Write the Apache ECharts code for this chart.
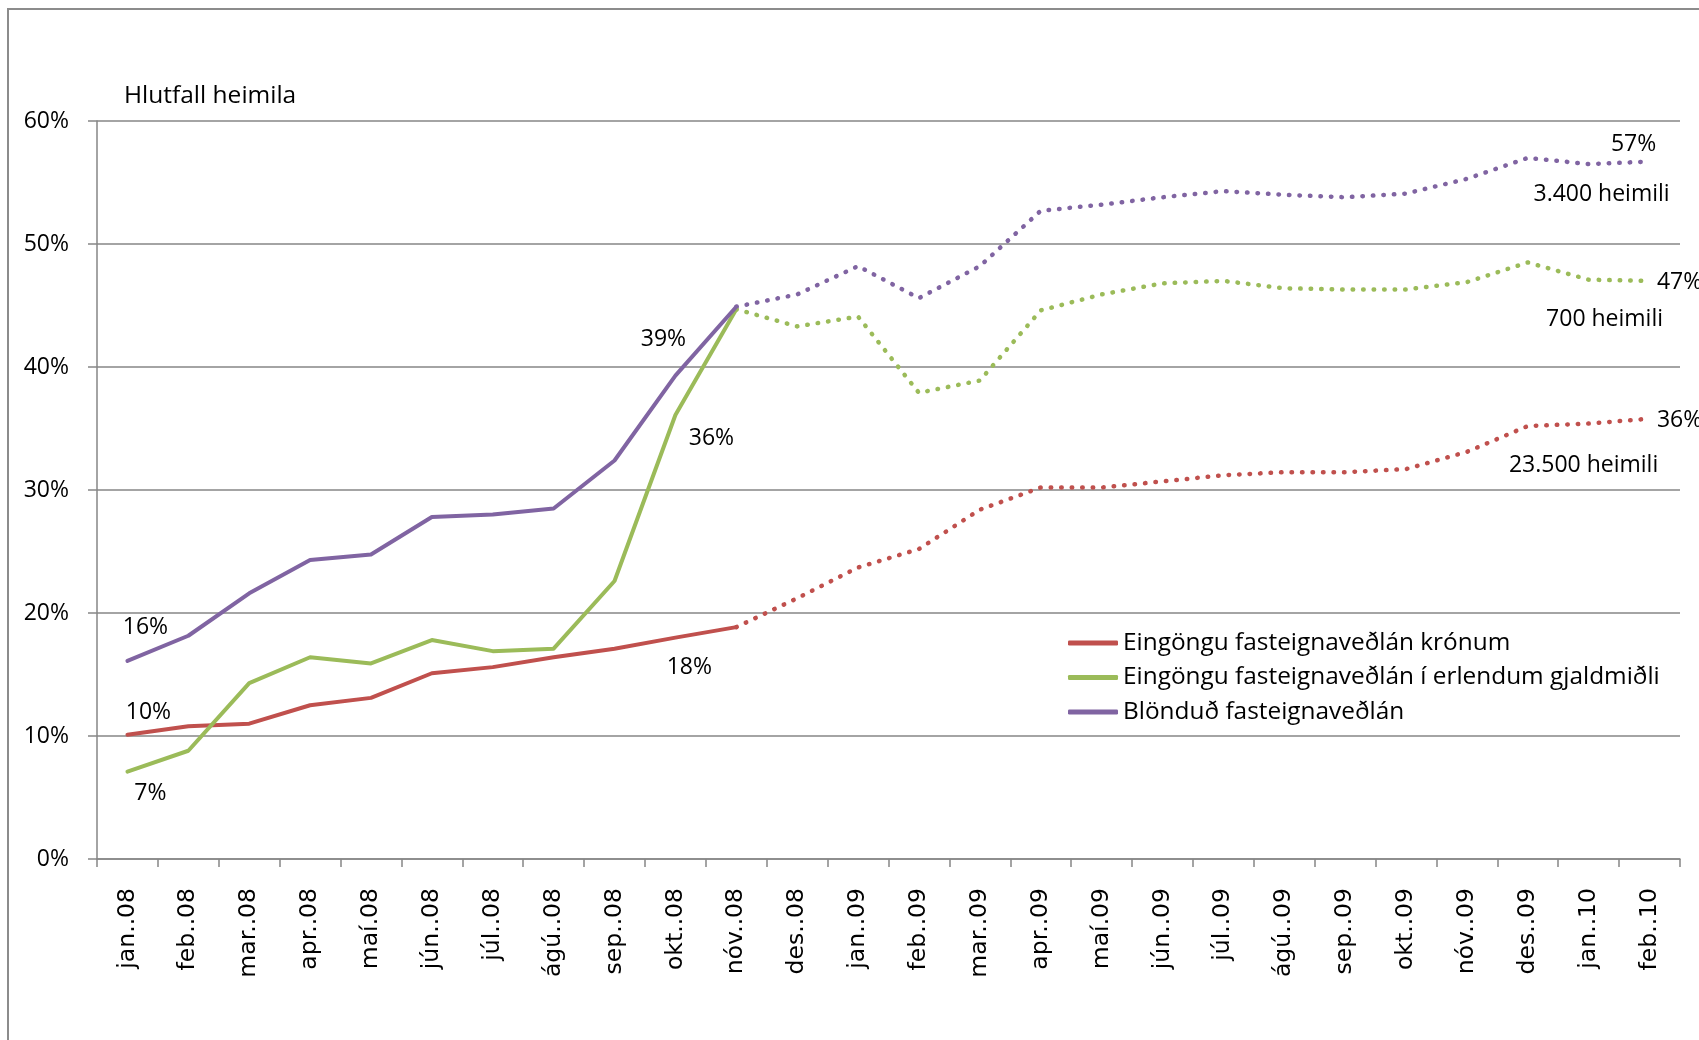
<!DOCTYPE html>
<html>
<head>
<meta charset="utf-8">
<title>Hlutfall heimila</title>
<script src="https://cdn.jsdelivr.net/npm/echarts@6/dist/echarts.min.js"></script>
<style>
    html, body {margin: 0; padding: 0; background: #fff;}
    #chart {width: 1699px; height: 1040px;}
</style>
</head>
<body>
<div id="chart"></div>
<script>
// mánuðir
var months = ['jan..08', 'feb..08', 'mar..08', 'apr..08', 'maí.08', 'jún..08', 'júl..08', 'ágú..08',
    'sep..08', 'okt..08', 'nóv..08', 'des..08', 'jan..09', 'feb..09', 'mar..09', 'apr..09', 'maí.09',
    'jún..09', 'júl..09', 'ágú..09', 'sep..09', 'okt..09', 'nóv..09', 'des..09', 'jan..10', 'feb..10'];

// raungögn (heil lína) - til og með nóv.08
var kronurSolid = [10.1, 10.8, 11.0, 12.5, 13.1, 15.1, 15.6, 16.4, 17.1, 18.0, 18.85];
var erlentSolid = [7.1, 8.8, 14.3, 16.4, 15.9, 17.8, 16.9, 17.1, 22.6, 36.1, 44.7];
var blandadSolid = [16.1, 18.15, 21.6, 24.3, 24.75, 27.8, 28.0, 28.5, 32.4, 39.3, 44.9];

// spá (punktalína) - frá nóv.08 til feb.10
var kronurDot = [18.85, 21.2, 23.7, 25.2, 28.4, 30.2, 30.2, 30.7, 31.2, 31.45, 31.45, 31.7, 33.1, 35.2, 35.4, 35.8];
var erlentDot = [44.7, 43.3, 44.1, 37.9, 38.9, 44.6, 45.9, 46.8, 47.0, 46.4, 46.3, 46.3, 46.9, 48.5, 47.1, 47.0];
var blandadDot = [44.9, 45.9, 48.2, 45.6, 48.2, 52.7, 53.2, 53.8, 54.3, 54.0, 53.8, 54.1, 55.3, 57.0, 56.5, 56.7];

var yTicks = [0, 10, 20, 30, 40, 50, 60];
var names = ['Eingöngu fasteignaveðlán krónum', 'Eingöngu fasteignaveðlán í erlendum gjaldmiðli', 'Blönduð fasteignaveðlán'];
var colors = ['#C0504D', '#9BBB59', '#8064A2'];

var calibriLike = '"Open Sans"';
var verdanaLike = '"DejaVu Sans"';
var splitIdx = kronurSolid.length - 1; // nóv.08
var last = months.length - 1;

function padSolid(arr) {
    var out = arr.slice();
    while (out.length < months.length) out.push('-');
    return out;
}
function padDot(arr) {
    var out = [];
    for (var i = 0; i < splitIdx; i++) out.push('-');
    return out.concat(arr);
}
function note(idx, val, text, dx, dy) {
    return {
        coord: [months[idx], val],
        label: {formatter: text, offset: [dx, dy]}
    };
}
function marks(list) {
    return {
        symbol: 'circle',
        symbolSize: 1,
        itemStyle: {color: 'rgba(0,0,0,0)'},
        label: {
            show: true,
            position: 'inside',
            color: '#000',
            fontSize: 23,
            fontFamily: calibriLike
        },
        data: list
    };
}
function solidSeries(i, data, notes) {
    return {
        name: names[i],
        type: 'line',
        data: padSolid(data),
        symbol: 'none',
        color: colors[i],
        lineStyle: {width: 4, color: colors[i], join: 'round', cap: 'round'},
        markPoint: marks(notes),
        z: 3
    };
}
function dotSeries(i, data, notes) {
    return {
        name: names[i],
        type: 'line',
        data: padDot(data),
        symbol: 'none',
        color: colors[i],
        lineStyle: {width: 4.5, color: colors[i], type: [0.5, 10], cap: 'round'},
        markPoint: marks(notes),
        z: 2
    };
}

var chart = echarts.init(document.getElementById('chart'));

function render() {
    chart.setOption({
        animation: false,
        backgroundColor: '#fff',
        title: {
            text: 'Hlutfall heimila',
            left: 124,
            top: 84,
            padding: 0,
            textStyle: {fontSize: 24.5, fontWeight: 'normal', color: '#000', fontFamily: calibriLike}
        },
        graphic: [{
            type: 'polyline',
            shape: {points: [[8, 1040], [8, 9], [1699, 9]]},
            style: {stroke: '#8c8c8c', lineWidth: 2, fill: null}
        }],
        legend: {
            data: names,
            orient: 'vertical',
            left: 1063,
            top: 626,
            itemWidth: 50,
            itemHeight: 5,
            itemGap: 10.5,
            icon: 'roundRect',
            textStyle: {fontSize: 24.4, lineHeight: 24, color: '#000', fontFamily: calibriLike}
        },
        grid: {left: 97, right: 19, top: 121, bottom: 181},
        xAxis: {
            type: 'category',
            data: months,
            boundaryGap: true,
            axisLine: {lineStyle: {color: '#868686', width: 1.5}},
            axisTick: {show: true, interval: 0, length: 8, lineStyle: {color: '#868686', width: 1.5}},
            axisLabel: {
                interval: 0,
                rotate: 90,
                margin: 29,
                fontSize: 23.5,
                color: '#000',
                fontFamily: verdanaLike
            }
        },
        yAxis: {
            type: 'value',
            min: yTicks[0],
            max: yTicks[yTicks.length - 1],
            interval: yTicks[1] - yTicks[0],
            axisLine: {show: true, lineStyle: {color: '#868686', width: 1.5}},
            axisTick: {show: true, length: 9, lineStyle: {color: '#868686', width: 1.5}},
            splitLine: {lineStyle: {color: '#868686', width: 1.5}},
            axisLabel: {
                formatter: '{value}%',
                margin: 28,
                fontSize: 23,
                color: '#000',
                fontFamily: calibriLike
            }
        },
        series: [
            solidSeries(0, kronurSolid, [
                note(0, kronurSolid[0], '10%', 21, -22),
                note(splitIdx, kronurSolid[splitIdx], '18%', -47, 40)
            ]),
            solidSeries(1, erlentSolid, [
                note(0, erlentSolid[0], '7%', 23, 22),
                note(9, erlentSolid[9], '36%', 36, 23)
            ]),
            solidSeries(2, blandadSolid, [
                note(0, blandadSolid[0], '16%', 18, -34),
                note(9, blandadSolid[9], '39%', -12, -36)
            ]),
            dotSeries(0, kronurDot, [
                note(last, kronurDot[kronurDot.length - 1], '36%', 30, 2),
                note(last, kronurDot[kronurDot.length - 1], '23.500 heimili', -66, 47)
            ]),
            dotSeries(1, erlentDot, [
                note(last, erlentDot[erlentDot.length - 1], '47%', 30, 2),
                note(last, erlentDot[erlentDot.length - 1], '700 heimili', -45, 39)
            ]),
            dotSeries(2, blandadDot, [
                note(last, blandadDot[blandadDot.length - 1], '57%', -16, -17),
                note(last, blandadDot[blandadDot.length - 1], '3.400 heimili', -48, 33)
            ])
        ]
    }, true);
}

render();
// teikna aftur þegar letrin eru komin
if (document.fonts && document.fonts.load) {
    Promise.all([
        document.fonts.load('23px "Open Sans"'),
        document.fonts.load('21px "DejaVu Sans"')
    ]).then(render, render);
}
</script>
</body>
</html>
